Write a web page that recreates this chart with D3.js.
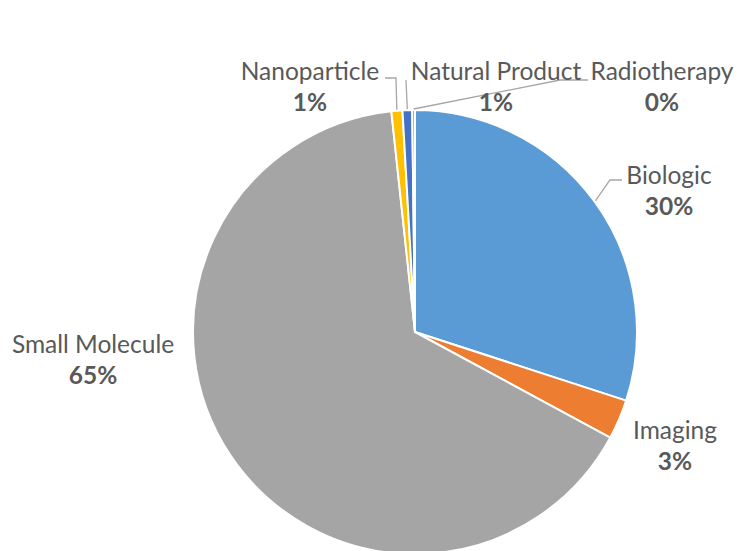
<!DOCTYPE html>
<html>
<head>
<meta charset="utf-8">
<script src="https://cdn.jsdelivr.net/npm/d3@7"></script>
<style>
  body { margin: 0; background: #fff; }
  svg { display: block; }
  text { font-family: Lato, "Open Sans", sans-serif; fill: #595959; }
</style>
</head>
<body>
<div class="pie-chart"></div>
<script>
// slice data, clockwise from 12 o'clock
const categories = ['Biologic', 'Imaging', 'Small Molecule', 'Nanoparticle', 'Natural Product', 'Radiotherapy'];
const shares = [30.0, 2.9, 65.4, 0.8, 0.7, 0.2];
const pctLabels = ['30%', '3%', '65%', '1%', '1%', '0%'];
const colors = ['#5b9bd5', '#ed7d31', '#a5a5a5', '#ffc000', '#4472c4', '#70ad47'];

// label placement (Excel style, labels pulled outside)
const labelPos = {
  'Biologic':        {x: 669, y: 184, elbow: [[610, 180], [622, 180]]},
  'Imaging':         {x: 675, y: 439, elbow: null},
  'Small Molecule':  {x: 93,  y: 353, elbow: null},
  'Nanoparticle':    {x: 310, y: 80,  elbow: [[396, 78], [385, 78]]},
  'Natural Product': {x: 496, y: 80,  elbow: [[406, 80]]},
  'Radiotherapy':    {x: 662, y: 80,  elbow: [[560, 80], [588, 80]]}
};

const width = 741;
const height = 551;
const cx = 415, cy = 332, r = 222;

const data = categories.map((c, i) => ({name: c, value: shares[i], pct: pctLabels[i], color: colors[i]}));

const svg = d3.select('.pie-chart')
  .append('svg')
  .attr('width', width)
  .attr('height', height);

const pie = d3.pie().sort(null).value(d => d.value);
const arc = d3.arc().innerRadius(0).outerRadius(r);
const arcs = pie(data);

const g = svg.append('g').attr('transform', `translate(${cx},${cy})`);

g.selectAll('path')
  .data(arcs)
  .enter()
  .append('path')
  .attr('d', arc)
  .attr('fill', d => d.data.color)
  .attr('stroke', '#fff')
  .attr('stroke-width', 2)
  .attr('stroke-linejoin', 'round');

// leader lines from slice edge to label
arcs.forEach(a => {
  const pos = labelPos[a.data.name];
  if (!pos.elbow) return;
  const mid = (a.startAngle + a.endAngle) / 2;
  const p0 = [cx + (r + 1) * Math.sin(mid), cy - (r + 1) * Math.cos(mid)];
  const pts = [p0].concat(pos.elbow);
  svg.append('path')
    .attr('d', d3.line()(pts))
    .attr('fill', 'none')
    .attr('stroke', '#a6a6a6')
    .attr('stroke-width', 1.3);
});

// labels: name + bold percentage
const labels = svg.selectAll('text.lbl')
  .data(arcs)
  .enter()
  .append('text')
  .attr('class', 'lbl')
  .attr('text-anchor', 'middle')
  .attr('font-size', 24.5);

labels.append('tspan')
  .attr('x', d => labelPos[d.data.name].x)
  .attr('y', d => labelPos[d.data.name].y)
  .text(d => d.data.name);

labels.append('tspan')
  .attr('x', d => labelPos[d.data.name].x)
  .attr('y', d => labelPos[d.data.name].y + 31)
  .attr('font-weight', 'bold')
  .text(d => d.data.pct);
</script>
</body>
</html>
